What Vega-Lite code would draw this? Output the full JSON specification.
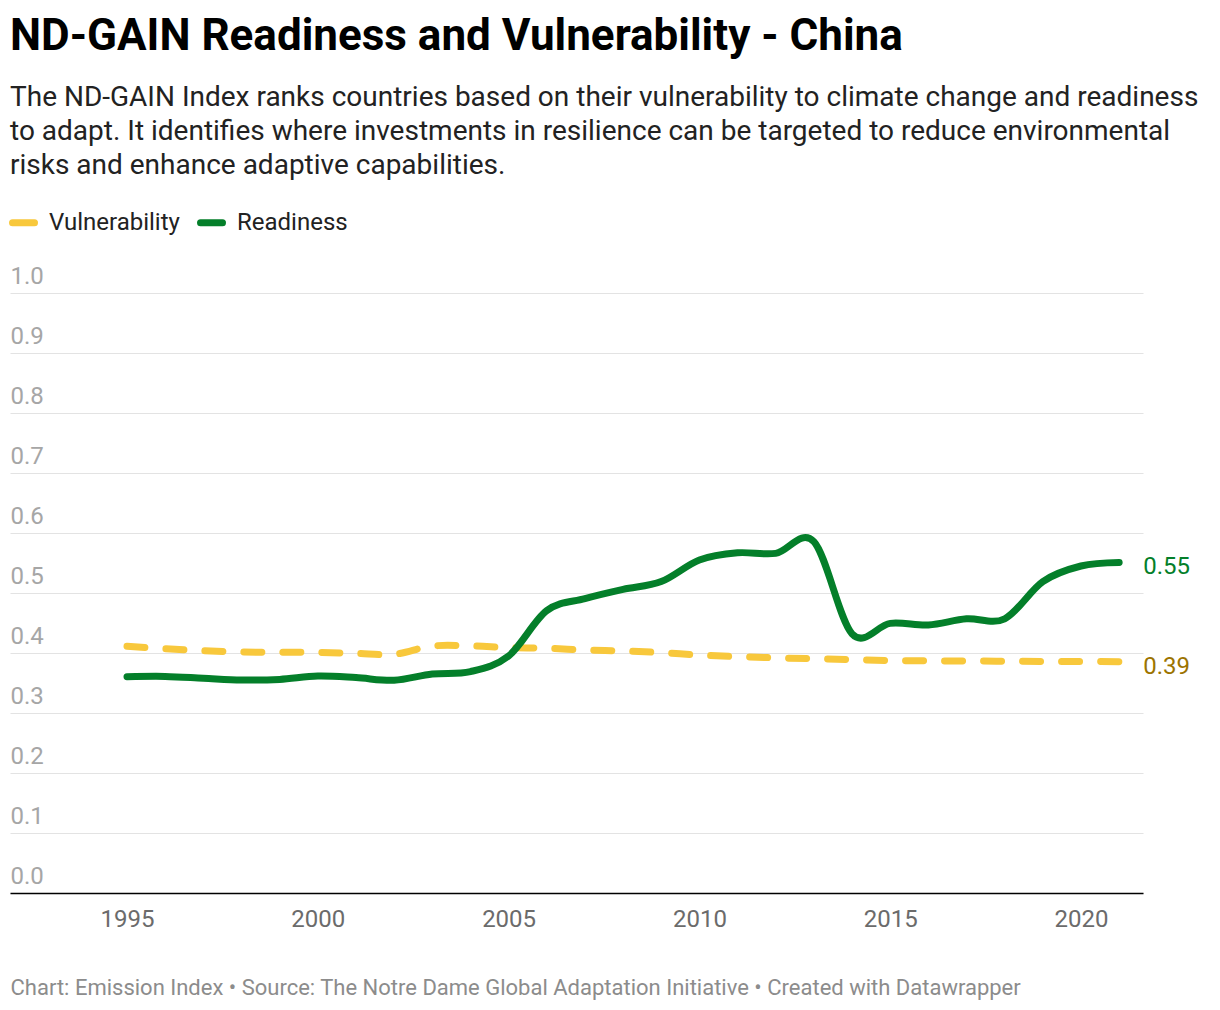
{
  "$schema": "https://vega.github.io/schema/vega-lite/v6.json",
  "width": 1133,
  "height": 600,
  "autosize": {"type": "none"},
  "padding": {"left": 10, "top": 293, "right": 77, "bottom": 117},
  "view": {"stroke": null},
  "title": {
    "text": "ND-GAIN Readiness and Vulnerability - China",
    "subtitle": [
      "The ND-GAIN Index ranks countries based on their vulnerability to climate change and readiness",
      "to adapt. It identifies where investments in resilience can be targeted to reduce environmental",
      "risks and enhance adaptive capabilities."
    ],
    "anchor": "start",
    "frame": "group",
    "font": "Roboto",
    "fontSize": 44,
    "fontWeight": "bold",
    "color": "#000000",
    "subtitleFont": "Roboto",
    "subtitleFontSize": 28,
    "subtitleColor": "#222222",
    "subtitleLineHeight": 34,
    "subtitlePadding": 25,
    "offset": 28
  },
  "data": {
    "values": [
      {"year": 1995, "series": "Vulnerability", "value": 0.4112},
      {"year": 1996, "series": "Vulnerability", "value": 0.4070},
      {"year": 1997, "series": "Vulnerability", "value": 0.4038},
      {"year": 1998, "series": "Vulnerability", "value": 0.4017},
      {"year": 1999, "series": "Vulnerability", "value": 0.4011},
      {"year": 2000, "series": "Vulnerability", "value": 0.4010},
      {"year": 2001, "series": "Vulnerability", "value": 0.3994},
      {"year": 2002, "series": "Vulnerability", "value": 0.3978},
      {"year": 2003, "series": "Vulnerability", "value": 0.4115},
      {"year": 2004, "series": "Vulnerability", "value": 0.4118},
      {"year": 2005, "series": "Vulnerability", "value": 0.4090},
      {"year": 2006, "series": "Vulnerability", "value": 0.4080},
      {"year": 2007, "series": "Vulnerability", "value": 0.4050},
      {"year": 2008, "series": "Vulnerability", "value": 0.4033},
      {"year": 2009, "series": "Vulnerability", "value": 0.4006},
      {"year": 2010, "series": "Vulnerability", "value": 0.3965},
      {"year": 2011, "series": "Vulnerability", "value": 0.3940},
      {"year": 2012, "series": "Vulnerability", "value": 0.3920},
      {"year": 2013, "series": "Vulnerability", "value": 0.3905},
      {"year": 2014, "series": "Vulnerability", "value": 0.3890},
      {"year": 2015, "series": "Vulnerability", "value": 0.3875},
      {"year": 2016, "series": "Vulnerability", "value": 0.3870},
      {"year": 2017, "series": "Vulnerability", "value": 0.3867},
      {"year": 2018, "series": "Vulnerability", "value": 0.3863},
      {"year": 2019, "series": "Vulnerability", "value": 0.3860},
      {"year": 2020, "series": "Vulnerability", "value": 0.3860},
      {"year": 2021, "series": "Vulnerability", "value": 0.3855},
      {"year": 1995, "series": "Readiness", "value": 0.3605},
      {"year": 1996, "series": "Readiness", "value": 0.3610},
      {"year": 1997, "series": "Readiness", "value": 0.3580},
      {"year": 1998, "series": "Readiness", "value": 0.3550},
      {"year": 1999, "series": "Readiness", "value": 0.3560},
      {"year": 2000, "series": "Readiness", "value": 0.3615},
      {"year": 2001, "series": "Readiness", "value": 0.3590},
      {"year": 2002, "series": "Readiness", "value": 0.3545},
      {"year": 2003, "series": "Readiness", "value": 0.3650},
      {"year": 2004, "series": "Readiness", "value": 0.3690},
      {"year": 2005, "series": "Readiness", "value": 0.3950},
      {"year": 2006, "series": "Readiness", "value": 0.4706},
      {"year": 2007, "series": "Readiness", "value": 0.4906},
      {"year": 2008, "series": "Readiness", "value": 0.5060},
      {"year": 2009, "series": "Readiness", "value": 0.5190},
      {"year": 2010, "series": "Readiness", "value": 0.5550},
      {"year": 2011, "series": "Readiness", "value": 0.5670},
      {"year": 2012, "series": "Readiness", "value": 0.5660},
      {"year": 2013, "series": "Readiness", "value": 0.5855},
      {"year": 2014, "series": "Readiness", "value": 0.4320},
      {"year": 2015, "series": "Readiness", "value": 0.4494},
      {"year": 2016, "series": "Readiness", "value": 0.4467},
      {"year": 2017, "series": "Readiness", "value": 0.4570},
      {"year": 2018, "series": "Readiness", "value": 0.4570},
      {"year": 2019, "series": "Readiness", "value": 0.5190},
      {"year": 2020, "series": "Readiness", "value": 0.5450},
      {"year": 2021, "series": "Readiness", "value": 0.5510}
    ]
  },
  "encoding": {
    "x": {
      "field": "year",
      "type": "quantitative",
      "scale": {"domain": [1991.934, 2021.625], "nice": false, "zero": false},
      "axis": {
        "values": [1995, 2000, 2005, 2010, 2015, 2020],
        "format": "d",
        "grid": false,
        "ticks": false,
        "domainColor": "#000000",
        "domainWidth": 1.5,
        "labelFont": "Roboto",
        "labelFontSize": 24,
        "labelColor": "#6b6b6b",
        "labelPadding": 14,
        "labelFlush": false,
        "title": "Chart: Emission Index • Source: The Notre Dame Global Adaptation Initiative • Created with Datawrapper",
        "titleFont": "Roboto",
        "titleFontSize": 22,
        "titleFontWeight": "normal",
        "titleColor": "#8c8c8c",
        "titleAnchor": "start",
        "titleAlign": "left",
        "titleBaseline": "middle",
        "titleX": 0,
        "titleY": 94,
        "zindex": 1
      }
    },
    "y": {
      "field": "value",
      "type": "quantitative",
      "scale": {"domain": [0, 1], "nice": false},
      "axis": {
        "values": [0, 0.1, 0.2, 0.3, 0.4, 0.5, 0.6, 0.7, 0.8, 0.9, 1.0],
        "format": ".1f",
        "title": null,
        "domain": false,
        "ticks": false,
        "tickSize": 0,
        "gridColor": "#e3e3e3",
        "gridWidth": 1.2,
        "labelAlign": "left",
        "labelBaseline": "alphabetic",
        "labelPadding": 0,
        "labelOffset": -10,
        "labelFont": "Roboto",
        "labelFontSize": 24,
        "labelColor": "#a6a6a6",
        "labelOverlap": false,
        "labelFlush": false
      }
    }
  },
  "layer": [
    {
      "transform": [{"filter": "datum.series === 'Vulnerability'"}],
      "mark": {"type": "line", "interpolate": "cardinal", "strokeWidth": 7, "strokeCap": "round", "strokeDash": [18, 21]},
      "encoding": {
        "color": {
          "field": "series",
          "type": "nominal",
          "scale": {"domain": ["Vulnerability", "Readiness"], "range": ["#f8c83c", "#047f2a"]},
          "legend": {
            "orient": "none",
            "legendX": -1,
            "legendY": -85,
            "direction": "horizontal",
            "title": null,
            "symbolType": "stroke",
            "symbolStrokeWidth": 7,
            "symbolSize": 484,
            "symbolDash": [],
            "labelFont": "Roboto",
            "labelFontSize": 24,
            "labelColor": "#222222",
            "labelOffset": 11,
            "columnPadding": 6,
            "encode": {"symbols": {"update": {"strokeCap": {"value": "round"}}}}
          }
        }
      }
    },
    {
      "transform": [{"filter": "datum.series === 'Readiness'"}],
      "mark": {"type": "line", "interpolate": "cardinal", "strokeWidth": 7, "strokeCap": "round"},
      "encoding": {
        "color": {"field": "series", "type": "nominal"}
      }
    },
    {
      "transform": [{"filter": "datum.year === 2021"}],
      "mark": {"type": "text", "align": "left", "baseline": "middle", "dx": 24, "dy": 5, "font": "Roboto", "fontSize": 24},
      "encoding": {
        "text": {"field": "value", "type": "quantitative", "format": ".2f"},
        "color": {
          "condition": {"test": "datum.series === 'Readiness'", "value": "#047f2a"},
          "value": "#9c7400"
        }
      }
    }
  ]
}
